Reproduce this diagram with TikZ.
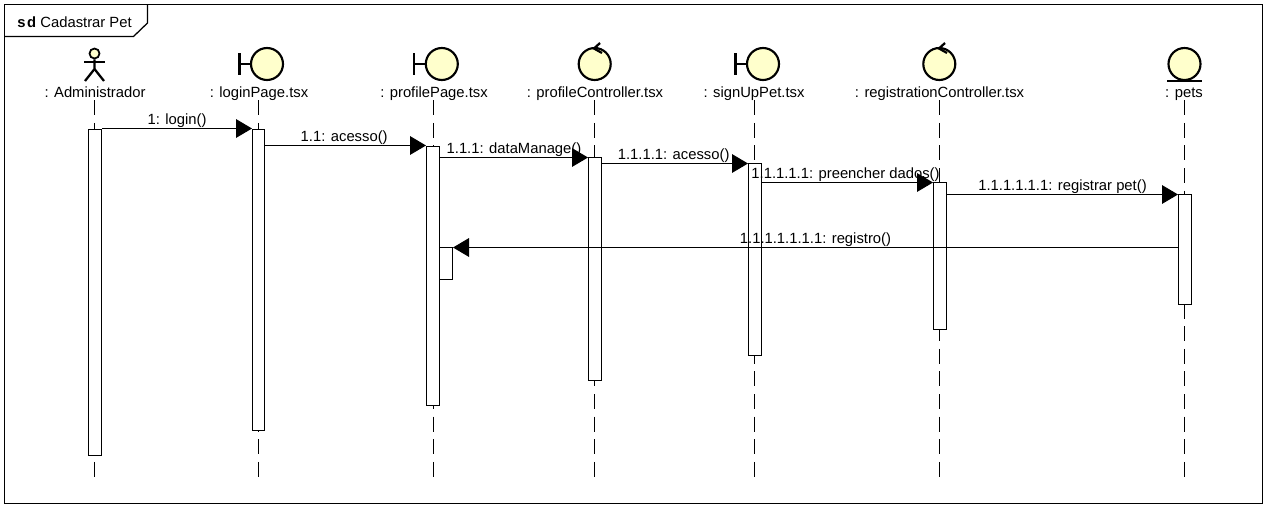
\documentclass[tikz,border=0pt]{standalone}
\usepackage{fontspec}
\setmainfont{Liberation Sans}
\usepackage{xcolor}
\usetikzlibrary{positioning, arrows.meta}
\definecolor{iconfill}{HTML}{FFFFCC}
\def\px{0.75pt}
\tikzset{
  frameline/.style = {draw=black, line width=0.95pt},
  ball/.style      = {circle, draw=black, line width=1.6pt, fill=iconfill,
                      inner sep=0pt, minimum size=24pt},
  iconline/.style  = {draw=black, line width=1.7pt},
  lbl/.style       = {anchor=base, inner sep=0pt, text depth=2.25pt, font=\fontsize{11.1pt}{13pt}\selectfont},
  life/.style      = {draw=black, line width=0.75pt, dash pattern=on 11.25pt off 5.7pt},
  act/.style       = {rectangle, draw=black, line width=0.75pt, fill=white,
                      inner sep=0pt, minimum width=13*\px},
  msg/.style       = {-{Triangle[length=12pt,width=14pt]}, draw=black, line width=0.75pt},
  msglbl/.style    = {midway, above=3pt, inner sep=0pt, text depth=0pt,
                      font=\fontsize{11.1pt}{13pt}\selectfont},
}
\begin{document}
\begin{tikzpicture}[x=\px, y=-\px]
  \useasboundingbox (0,0) rectangle (1267,507);

  % Frame
  \draw[frameline] (4.5,4.5) rectangle (1262.5,503.5);
  \draw[frameline] (4.5,36.5) -- (133.5,36.5) -- (147.5,23) -- (147.5,4.5);
  \node[anchor=base west, inner sep=0pt, font=\fontsize{11.1pt}{13pt}\selectfont] (title) at (17,27)
       {\textbf{s\kern1.2pt d}\kern3.2pt Cadastrar Pet};

  % Icons
  \node[circle, draw=black, line width=1.3pt, fill=iconfill, inner sep=0pt, minimum size=7.5pt] (adminIcon) at (94.5,53.5) {};
  \draw[iconline] (adminIcon.south) -- (94.5,69) -- (85,81);
  \draw[iconline] (94.5,69) -- (104,81);
  \draw[iconline] (84,62) -- (105,62);

  \node[ball] (loginIcon) at (267,64) {};
  \draw[iconline] (loginIcon.west) -- ++(-10.5,0) ++(0,-11) -- ++(0,22);

  \node[ball] (profileIcon) at (441.8,64) {};
  \draw[iconline] (profileIcon.west) -- ++(-10.5,0) ++(0,-11) -- ++(0,22);

  \node[ball] (profCtrlIcon) at (594.7,64) {};
  \draw[iconline] (600,43) -- (594,48.5) -- (602,53);

  \node[ball] (signUpIcon) at (763,64) {};
  \draw[iconline] (signUpIcon.west) -- ++(-10.5,0) ++(0,-11) -- ++(0,22);

  \node[ball] (regCtrlIcon) at (939.3,64) {};
  \draw[iconline] (945,43) -- (939,48.5) -- (947,53);

  \node[ball] (petsIcon) at (1184.5,64) {};
  \draw[iconline] (petsIcon.south) ++(-17.5,0) -- ++(35,0);

  % Labels
  \node[lbl] (adminLbl) at (95,97) {: Administrador};
  \node[lbl] (loginLbl) at (259,97) {: loginPage.tsx};
  \node[lbl] (profileLbl) at (434,97) {: profilePage.tsx};
  \node[lbl] (profCtrlLbl) at (595,97) {: profileController.tsx};
  \node[lbl] (signUpLbl) at (754,97) {: signUpPet.tsx};
  \node[lbl] (regCtrlLbl) at (939.5,97) {: registrationController.tsx};
  \node[lbl] (petsLbl) at (1184,97) {: pets};

  % Lifelines
  \coordinate (adminEnd) at (94.5,477);
  \coordinate (loginEnd) at (258.5,477);
  \coordinate (profileEnd) at (433.5,477);
  \coordinate (profCtrlEnd) at (594.5,477);
  \coordinate (signUpEnd) at (754.5,477);
  \coordinate (regCtrlEnd) at (939.5,477);
  \coordinate (petsEnd) at (1184.5,477);
  \draw[life] (adminEnd |- adminLbl.south) -- (adminEnd);
  \draw[life] (loginEnd |- loginLbl.south) -- (loginEnd);
  \draw[life] (profileEnd |- profileLbl.south) -- (profileEnd);
  \draw[life] (profCtrlEnd |- profCtrlLbl.south) -- (profCtrlEnd);
  \draw[life] (signUpEnd |- signUpLbl.south) -- (signUpEnd);
  \draw[life] (regCtrlEnd |- regCtrlLbl.south) -- (regCtrlEnd);
  \draw[life] (petsEnd |- petsLbl.south) -- (petsEnd);

  % Activations
  \node[act, minimum height=326*\px] (adminAct) at (95,292.5) {};
  \node[act, minimum width=12*\px, minimum height=301*\px] (loginAct) at (258.5,280) {};
  \node[act, minimum height=259*\px] (profileAct) at (433,276) {};
  \node[act, minimum height=32*\px] (selfAct) at (446,263.5) {};
  \node[act, minimum height=223*\px] (profCtrlAct) at (595,269) {};
  \node[act, minimum height=192*\px] (signUpAct) at (755,259.5) {};
  \node[act, minimum height=147*\px] (regCtrlAct) at (940,256) {};
  \node[act, minimum height=110*\px] (petsAct) at (1185,249.5) {};

  % Messages
  \coordinate (m1) at (0,128.5);
  \coordinate (m2) at (0,145.5);
  \coordinate (m3) at (0,157.5);
  \coordinate (m4) at (0,163.5);
  \coordinate (m5) at (0,182.5);
  \coordinate (m6) at (0,194.5);
  \coordinate (m7) at (0,247.5);
  \draw[msg] (adminAct.east |- m1) -- node[msglbl] {1: login()} (loginAct.west |- m1);
  \draw[msg] (loginAct.east |- m2) -- node[msglbl, xshift=-1pt] {1.1: acesso()} (profileAct.west |- m2);
  \draw[msg] (profileAct.east |- m3) -- node[msglbl] {1.1.1: dataManage()} (profCtrlAct.west |- m3);
  \draw[msg] (profCtrlAct.east |- m4) -- node[msglbl, xshift=-1pt] {1.1.1.1: acesso()} (signUpAct.west |- m4);
  \draw[msg] (signUpAct.east |- m5) -- node[msglbl, xshift=-1.5pt] {1.1.1.1.1: preencher dados()} (regCtrlAct.west |- m5);
  \draw[msg] (regCtrlAct.east |- m6) -- node[msglbl] {1.1.1.1.1.1: registrar pet()} (petsAct.west |- m6);
  \draw[msg] (petsAct.west |- m7) -- node[msglbl] {1.1.1.1.1.1.1: registro()} (selfAct.east |- m7);

\end{tikzpicture}
\end{document}
